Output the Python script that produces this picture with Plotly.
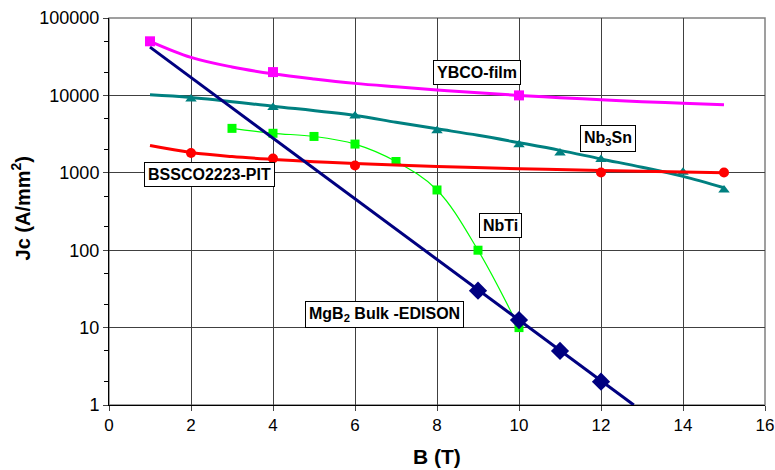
import math
import plotly.graph_objects as go

# ---- data ----
ybco_x = [1, 4, 10]
ybco_y = [50000, 20000, 10000]
ybco_fit_x = [1, 2, 3, 4, 5, 6, 7, 8, 9, 10, 11, 12, 13, 14, 15]
ybco_fit_y = [50000, 31000, 23300, 19000, 16300, 14300, 12900, 11700, 10800, 10000, 9350, 8800, 8300, 7900, 7550]

nb3sn_x = [2, 4, 6, 8, 10, 11, 12, 14, 15]
nb3sn_y = [9000, 7000, 5400, 3500, 2300, 1800, 1480, 1020, 600]
nb3sn_fit_x = [1, 2, 4, 6, 7, 8, 9, 10, 11, 12, 13, 14, 15]
nb3sn_fit_y = [10200, 9400, 7250, 5500, 4500, 3700, 3050, 2450, 1950, 1510, 1180, 900, 640]

bscco_x = [2, 4, 6, 12, 15]
bscco_y = [1800, 1530, 1240, 1010, 1010]
bscco_fit_x = [1, 2, 3, 4, 5, 6, 8, 10, 12, 15]
bscco_fit_y = [2250, 1830, 1620, 1490, 1390, 1320, 1210, 1130, 1070, 1000]

nbti_x = [3, 4, 5, 6, 7, 8, 9, 10]
nbti_y = [3750, 3240, 2950, 2350, 1400, 600, 100, 10]

mgb2_x = [9, 10, 11, 12]
mgb2_y = [30, 12.5, 5, 2]
mgb2_fit_x = [1, 12.8]
mgb2_fit_y = [42000, 1]

x_ticks = [0, 2, 4, 6, 8, 10, 12, 14, 16]
y_ticks = [1, 10, 100, 1000, 10000, 100000]
y_tick_text = ["1", "10", "100", "1000", "10000", "100000"]

MAG = "#FF00FF"
TEAL = "#008080"
RED = "#FF0000"
GREEN = "#00FF00"
NAVY = "#000080"
FONT = "Liberation Sans, Arial"

fig = go.Figure()

# Nb3Sn
fig.add_trace(go.Scatter(x=nb3sn_x, y=nb3sn_y, mode="markers",
                         marker=dict(symbol="triangle-up", size=10, color=TEAL)))
fig.add_trace(go.Scatter(x=nb3sn_fit_x, y=nb3sn_fit_y, mode="lines", line_shape="spline",
                         line=dict(color=TEAL, width=3)))
# NbTi
fig.add_trace(go.Scatter(x=nbti_x, y=nbti_y, mode="lines+markers", line_shape="spline",
                         line=dict(color=GREEN, width=1.2),
                         marker=dict(symbol="square", size=9, color=GREEN)))
# BSCCO
fig.add_trace(go.Scatter(x=bscco_fit_x, y=bscco_fit_y, mode="lines", line_shape="spline",
                         line=dict(color=RED, width=3)))
fig.add_trace(go.Scatter(x=bscco_x, y=bscco_y, mode="markers",
                         marker=dict(symbol="circle", size=10, color=RED)))
# YBCO
fig.add_trace(go.Scatter(x=ybco_fit_x, y=ybco_fit_y, mode="lines", line_shape="spline",
                         line=dict(color=MAG, width=3)))
fig.add_trace(go.Scatter(x=ybco_x, y=ybco_y, mode="markers",
                         marker=dict(symbol="square", size=10, color=MAG)))
# MgB2
fig.add_trace(go.Scatter(x=mgb2_fit_x, y=mgb2_fit_y, mode="lines",
                         line=dict(color=NAVY, width=3)))
fig.add_trace(go.Scatter(x=mgb2_x, y=mgb2_y, mode="markers",
                         marker=dict(symbol="diamond", size=14, color=NAVY)))


def label(x, y, text):
    fig.add_annotation(x=x, y=math.log10(y), xref="x", yref="y", text=text, showarrow=False,
                       font=dict(family=FONT, size=16, color="black"),
                       bgcolor="white", bordercolor="black", borderwidth=1, borderpad=3)


label(8.98, 19500, "<b>YBCO-film</b>")
label(12.17, 2750, "<b>Nb<sub>3</sub>Sn</b>")
label(2.46, 942, "<b>BSSCO2223-PIT</b>")
label(9.56, 207, "<b>NbTi</b>")
label(6.73, 14.7, "<b>MgB<sub>2</sub> Bulk -EDISON</b>")

# axis titles
fig.add_annotation(x=-0.135, y=0.509, xref="paper", yref="paper", xanchor="center", yanchor="middle",
                   text="<b>Jc (A/mm<sup>2</sup>)</b>",
                   showarrow=False, textangle=-90, font=dict(family=FONT, size=20, color="black"))
fig.add_annotation(x=0.5, y=-0.134, xref="paper", yref="paper", xanchor="center", yanchor="middle",
                   text="<b>B (T)</b>",
                   showarrow=False, font=dict(family=FONT, size=21, color="black"))

fig.update_layout(
    width=775, height=470,
    margin=dict(l=109, r=10, t=18, b=65, autoexpand=False),
    paper_bgcolor="white", plot_bgcolor="white",
    showlegend=False,
    font=dict(family=FONT, color="black"),
    xaxis=dict(range=[0, 16], tickvals=x_ticks, ticks="outside", ticklen=5, automargin=False,
               tickfont=dict(size=17), showgrid=True, gridcolor="#404040", gridwidth=1,
               showline=True, linecolor="black", linewidth=1, zeroline=False),
    yaxis=dict(type="log", range=[0, 5], tickvals=y_ticks, ticktext=y_tick_text, automargin=False,
               ticks="outside", ticklen=5, tickfont=dict(size=18),
               showgrid=True, gridcolor="#404040", gridwidth=1,
               showline=True, linecolor="black", linewidth=1, zeroline=False,
               minor=dict(ticks="outside", ticklen=4, tickcolor="black", showgrid=False)),
)
# gray border top/right
fig.add_shape(type="rect", xref="paper", yref="paper", x0=0, y0=0, x1=1, y1=1,
              line=dict(color="#808080", width=1.5), layer="below")

fig.write_html("out.html", config={"displayModeBar": False},
               post_script="document.body.style.margin='0';document.body.style.overflow='hidden';")
